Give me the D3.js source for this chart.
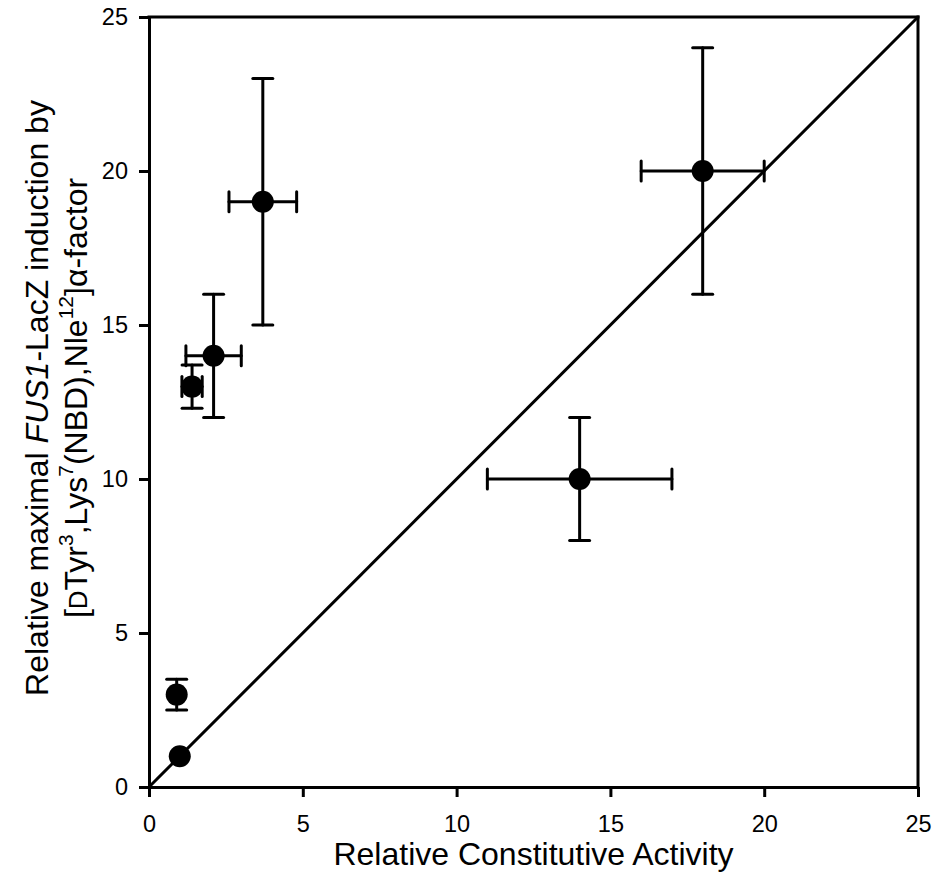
<!DOCTYPE html>
<html>
<head>
<meta charset="utf-8">
<script src="https://cdn.jsdelivr.net/npm/d3@7"></script>
<style>
body { margin: 0; background: #fff; }
text { font-family: "Liberation Sans", Arial, sans-serif; }
</style>
</head>
<body>
<div id="chart"></div>
<script>
// values
let x_vals = [1, 0.9, 1.4, 2.1, 3.7, 14, 18];
let y_vals = [1, 3, 13, 14, 19, 10, 20];
let x_err = [0, 0, 0.33, 0.9, 1.1, 3, 2];
let y_err = [0, 0.5, 0.7, 2, 4, 2, 4];
let tick_vals = [0, 5, 10, 15, 20, 25];
let identity_line = [[0, 0], [25, 25]];

let width = 936, height = 876;
let plot_left = 149, plot_right = 918, plot_top = 17, plot_bottom = 787;

let svg = d3.select("#chart").append("svg").attr("width", width).attr("height", height)

let x_scale = d3.scaleLinear().domain([0, 25]).range([plot_left, plot_right]);
let y_scale = d3.scaleLinear().domain([0, 25]).range([plot_bottom, plot_top]);

let x_axis = d3.axisBottom(x_scale).tickValues(tick_vals).tickSize(10).tickSizeOuter(0).tickPadding(18);
let y_axis = d3.axisLeft(y_scale).tickValues(tick_vals).tickSize(10).tickSizeOuter(0).tickPadding(11);

let gx = svg.append("g").attr("transform", "translate(0," + plot_bottom + ")").call(x_axis);
let gy = svg.append("g").attr("transform", "translate(" + plot_left + ",0)").call(y_axis);

[gx, gy].forEach(function(g) {
    g.attr("font-size", null).attr("font-family", null);
    g.selectAll("path.domain").attr("stroke", "#000").attr("stroke-width", 3);
    g.selectAll(".tick line").attr("stroke", "#000").attr("stroke-width", 3);
    g.selectAll(".tick text").attr("fill", "#000").style("font-size", "23.5px");
});

// top and right frame
svg.append("line").attr("x1", x_scale(0)).attr("x2", x_scale(25)).attr("y1", y_scale(25)).attr("y2", y_scale(25))
    .attr("stroke", "#000").attr("stroke-width", 3).attr("stroke-linecap", "square");
svg.append("line").attr("x1", x_scale(25)).attr("x2", x_scale(25)).attr("y1", y_scale(25)).attr("y2", y_scale(0))
    .attr("stroke", "#000").attr("stroke-width", 3).attr("stroke-linecap", "square");

// 1:1 line
svg.append("path")
    .datum(identity_line)
    .attr("fill", "none")
    .attr("stroke", "#000")
    .attr("stroke-width", 3)
    .attr("d", d3.line()
        .x(function(d) { return x_scale(d[0]) })
        .y(function(d) { return y_scale(d[1]) }));

let pts = x_vals.map(function(x, i) {
    return {x: x, y: y_vals[i], ex: x_err[i], ey: y_err[i]};
});

let cap = 10;
let eb = svg.append("g").attr("stroke", "#000").attr("stroke-width", 3).attr("stroke-linecap", "round");

pts.forEach(function(p) {
    if (p.ey > 0) {
        let y1 = y_scale(p.y - p.ey), y2 = y_scale(p.y + p.ey), cx = x_scale(p.x);
        eb.append("line").attr("x1", cx).attr("x2", cx).attr("y1", y1).attr("y2", y2);
        eb.append("line").attr("x1", cx - cap).attr("x2", cx + cap).attr("y1", y1).attr("y2", y1);
        eb.append("line").attr("x1", cx - cap).attr("x2", cx + cap).attr("y1", y2).attr("y2", y2);
    }
    if (p.ex > 0) {
        let x1 = x_scale(p.x - p.ex), x2 = x_scale(p.x + p.ex), cy = y_scale(p.y);
        eb.append("line").attr("x1", x1).attr("x2", x2).attr("y1", cy).attr("y2", cy);
        eb.append("line").attr("x1", x1).attr("x2", x1).attr("y1", cy - cap).attr("y2", cy + cap);
        eb.append("line").attr("x1", x2).attr("x2", x2).attr("y1", cy - cap).attr("y2", cy + cap);
    }
});

svg.append("g").selectAll("circle")
    .data(pts)
    .enter().append("circle")
    .attr("cx", function(d) { return x_scale(d.x) })
    .attr("cy", function(d) { return y_scale(d.y) })
    .attr("r", 11)
    .attr("fill", "#000");

// axis titles
svg.append("text")
    .attr("x", (plot_left + plot_right) / 2)
    .attr("y", 865)
    .attr("text-anchor", "middle")
    .style("font-size", "32px")
    .text("Relative Constitutive Activity");

let ylab = svg.append("g").attr("transform", "translate(0,398) rotate(-90)");

let l1 = ylab.append("text").attr("x", 0).attr("y", 48).attr("text-anchor", "middle").style("font-size", "32px");
l1.append("tspan").text("Relative maximal ");
l1.append("tspan").style("font-style", "italic").text("FUS1");
l1.append("tspan").text("-LacZ induction by");

let l2 = ylab.append("text").attr("x", 0).attr("y", 87).attr("text-anchor", "middle").style("font-size", "32px");
l2.append("tspan").text("[");
l2.append("tspan").style("font-size", "26px").text("D");
l2.append("tspan").text("Tyr");
l2.append("tspan").style("font-size", "21px").attr("dy", -14).text("3");
l2.append("tspan").attr("dy", 14).text(",Lys");
l2.append("tspan").style("font-size", "21px").attr("dy", -14).text("7");
l2.append("tspan").attr("dy", 14).text("(NBD),Nle");
l2.append("tspan").style("font-size", "21px").attr("dy", -14).text("12");
l2.append("tspan").attr("dy", 14).text("]\u03b1-factor");
</script>
</body>
</html>
